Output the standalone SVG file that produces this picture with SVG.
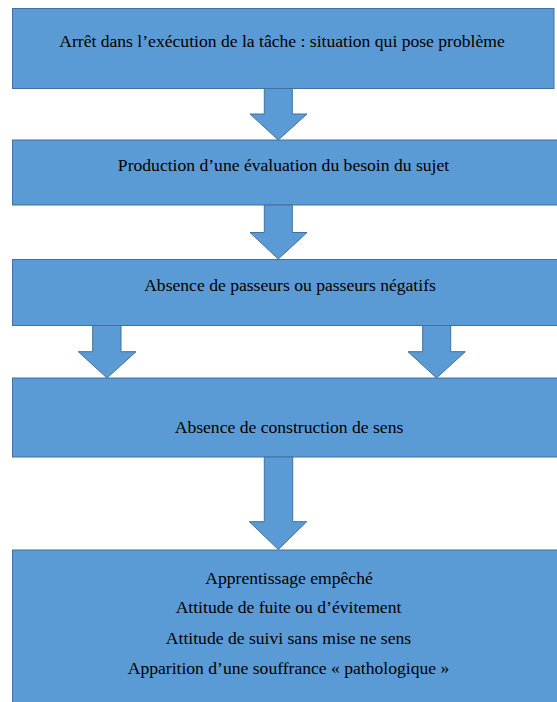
<svg xmlns="http://www.w3.org/2000/svg" width="557" height="702" viewBox="0 0 557 702">
<style>
.box{fill:#5B9BD5;stroke:#41719C;stroke-width:1}
.arr{fill:#5B9BD5;stroke:#41719C;stroke-width:1;stroke-linejoin:miter}
text{font-family:"Liberation Serif","Times New Roman",serif;font-size:17.6px;fill:#000;text-anchor:middle}
</style>
<rect width="557" height="702" fill="#fff"/>
<g id="n1"><rect class="box" x="12.5" y="8.5" width="541.5" height="80"/>
<text x="282" y="47">Arrêt dans l’exécution de la tâche : situation qui pose problème</text></g>
<g id="n2"><rect class="box" x="12.5" y="140" width="546" height="65"/>
<text x="283.5" y="171">Production d’une évaluation du besoin du sujet</text></g>
<g id="n3"><rect class="box" x="12.5" y="259.5" width="546" height="66"/>
<text x="290" y="291">Absence de passeurs ou passeurs négatifs</text></g>
<g id="n4"><rect class="box" x="12.5" y="378" width="546" height="79"/>
<text x="289" y="432.5">Absence de construction de sens</text></g>
<g id="n5"><rect class="box" x="12.5" y="550" width="546" height="160"/>
<text x="289" y="583.5">Apprentissage empêché</text>
<text x="288.5" y="612.5">Attitude de fuite ou d’évitement</text>
<text x="288.5" y="643.5">Attitude de suivi sans mise ne sens</text>
<text x="288.5" y="674">Apparition d’une souffrance « pathologique »</text></g>
<g id="connectors">
<polygon class="arr" points="264.3,88.5 292.3,88.5 292.3,114 307,114 278.3,140 250,114 264.3,114"/>
<polygon class="arr" points="264.3,205 292.3,205 292.3,232.5 307,232.5 278.3,259 250,232.5 264.3,232.5"/>
<polygon class="arr" points="92.7,325.5 121,325.5 121,351.7 136,351.7 107,378 78.3,351.7 92.7,351.7"/>
<polygon class="arr" points="422.7,325.5 450.7,325.5 450.7,351.7 465.3,351.7 436.5,378 408,351.7 422.7,351.7"/>
<polygon class="arr" points="264.3,457 292.7,457 292.7,521.7 306.7,521.7 278.3,549.5 249.3,521.7 264.3,521.7"/>
</g>
</svg>
